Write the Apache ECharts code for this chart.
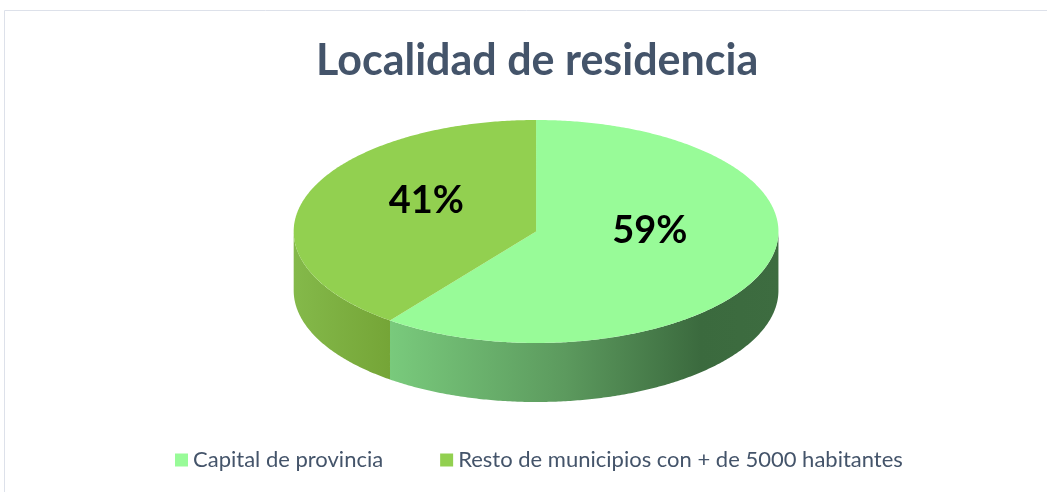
<!DOCTYPE html>
<html>
<head>
<meta charset="utf-8">
<script src="https://cdn.jsdelivr.net/npm/echarts@6/dist/echarts.min.js"></script>
<style>
  html, body { margin: 0; background: #fff; }
  #chart { width: 1047px; height: 492px; }
</style>
</head>
<body>
<div id="chart"></div>
<script>
const titleText = 'Localidad de residencia'
const categories = ['Capital de provincia', 'Resto de municipios con + de 5000 habitantes']
const values = [59, 41]

const topColors = ['#98fb98', '#92d050']
const sideStops = [
  [[0, '#79ca7c'], [0.45, '#5c9a5e'], [0.8, '#3b6a3e'], [1, '#3d6c40']],
  [[0, '#84b94a'], [1, '#75a537']]
]

const total = values.reduce((a, b) => a + b, 0)
// slice angles, clockwise from 12 o'clock
const slices = []
let acc = 0
values.forEach(v => {
  const a0 = -Math.PI / 2 + (acc / total) * 2 * Math.PI
  acc += v
  const a1 = -Math.PI / 2 + (acc / total) * 2 * Math.PI
  slices.push([a0, a1])
})

function geo(api) {
  const w = api.getWidth(), h = api.getHeight()
  return { cx: w * 0.512, cy: h * 0.4705, rx: w * 0.2315, ry: h * 0.2266, depth: h * 0.12 }
}

// slight perspective: front half of the disc looks a little wider in angle
function warp(t) {
  return t + 0.09 * Math.sin(2 * (t + Math.PI / 2)) * (Math.sin(t) > 0 ? 1 : 0.3)
}

function arc(g, a0, a1, dy) {
  const n = Math.max(2, Math.ceil(Math.abs(a1 - a0) / 0.01))
  const pts = []
  for (let i = 0; i <= n; i++) {
    const t = a0 + (a1 - a0) * i / n
    pts.push([g.cx + g.rx * Math.cos(t), g.cy + g.ry * Math.sin(t) + dy])
  }
  return pts
}

function makeRender(idx) {
  return function (params, api) {
    const g = geo(api)
    const a0 = warp(slices[idx][0]), a1 = warp(slices[idx][1])
    const children = []
    // visible front wall
    const lo = Math.max(a0, 0), hi = Math.min(a1, Math.PI)
    if (hi > lo) {
      const pts = arc(g, lo, hi, 0).concat(arc(g, hi, lo, g.depth))
      const xs = pts.map(p => p[0])
      children.push({
        type: 'polygon',
        shape: { points: pts },
        style: {
          fill: {
            type: 'linear', global: true,
            x: Math.min(...xs), y: 0, x2: Math.max(...xs), y2: 0,
            colorStops: sideStops[idx].map(s => ({ offset: s[0], color: s[1] }))
          }
        }
      })
    }
    // top face
    children.push({
      type: 'polygon',
      shape: { points: [[g.cx, g.cy]].concat(arc(g, a0, a1, 0)) },
      style: { fill: api.visual('color') }
    })
    // percentage label
    const mid = (slices[idx][0] + slices[idx][1]) / 2
    const pct = Math.round(api.value(0) / total * 100) + '%'
    children.push({
      type: 'text',
      style: {
        text: pct,
        x: g.cx + g.rx * 0.48 * Math.cos(mid) + 2,
        y: g.cy + g.ry * 0.48 * Math.sin(mid) - 16,
        align: 'center',
        verticalAlign: 'middle',
        fill: '#000',
        font: 'bold 38px Lato'
      }
    })
    return { type: 'group', children }
  }
}

const chart = echarts.init(document.getElementById('chart'))
chart.setOption({
  animation: false,
  title: {
    text: titleText,
    left: 311,
    top: 35,
    textStyle: { fontFamily: 'Lato', fontSize: 43, fontWeight: 'bold', color: '#44546a' }
  },
  legend: {
    data: categories,
    bottom: 16,
    left: 170,
    icon: 'rect',
    itemWidth: 13,
    itemHeight: 13,
    itemGap: 57,
    itemTextGap: 6,
    textStyle: { fontFamily: 'Lato', fontSize: 22, color: '#44546a' }
  },
  graphic: [{
    type: 'rect',
    silent: true,
    shape: { x: 4.5, y: 10.5, width: 1200, height: 600 },
    style: { fill: 'none', stroke: '#dde1ea', lineWidth: 1 }
  }],
  series: categories.map((name, i) => ({
    type: 'custom',
    name: name,
    coordinateSystem: 'none',
    itemStyle: { color: topColors[i] },
    data: [[values[i]]],
    renderItem: makeRender(i)
  }))
})
</script>
</body>
</html>
